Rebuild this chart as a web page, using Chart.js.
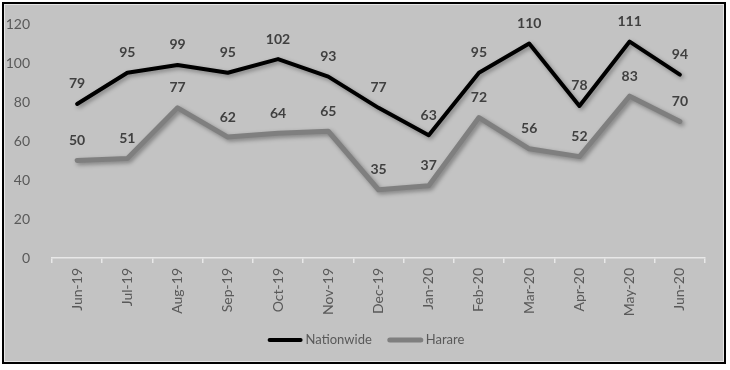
<!DOCTYPE html>
<html>
<head>
<meta charset="utf-8">
<script src="https://cdn.jsdelivr.net/npm/chart.js@4"></script>
<style>
  html, body { margin: 0; padding: 0; background: #ffffff; }
  #wrap { position: relative; width: 730px; height: 370px; }
  #frame { position: absolute; left: 2px; top: 2px; width: 720px; height: 358px;
           background: #c3c3c3; border: 2px solid #000; box-shadow: inset 0 0 0 1px #e6e6e6; }
  #tick { position: absolute; left: 731px; top: 343px; width: 2px; height: 27px; background: #000; }
  canvas { position: absolute; left: 0; top: 0; }
</style>
</head>
<body>
<div id="wrap">
  <div id="frame"></div>
  <div id="tick"></div>
  <canvas id="c" width="730" height="370"></canvas>
</div>
<script>
const categories = ['Jun-19','Jul-19','Aug-19','Sep-19','Oct-19','Nov-19','Dec-19','Jan-20','Feb-20','Mar-20','Apr-20','May-20','Jun-20'];
const nationwide = [79, 95, 99, 95, 102, 93, 77, 63, 95, 110, 78, 111, 94];
const harare = [50, 51, 77, 62, 64, 65, 35, 37, 72, 56, 52, 83, 70];
const yTicks = [0, 20, 40, 60, 80, 100, 120];

const FONT = 'Lato, "Open Sans", sans-serif';

const shadowPlugin = {
  id: 'shadow',
  beforeDatasetDraw(chart) {
    const ctx = chart.ctx;
    ctx.save();
    ctx.shadowColor = 'rgba(0,0,0,0.35)';
    ctx.shadowBlur = 4;
    ctx.shadowOffsetX = 2;
    ctx.shadowOffsetY = 2;
  },
  afterDatasetDraw(chart) {
    chart.ctx.restore();
  }
};

const labelPlugin = {
  id: 'valueLabels',
  afterDatasetsDraw(chart) {
    const ctx = chart.ctx;
    ctx.save();
    ctx.font = 'bold 14px ' + FONT;
    ctx.fillStyle = '#404040';
    ctx.textAlign = 'center';
    ctx.textBaseline = 'middle';
    chart.data.datasets.forEach((ds, i) => {
      const meta = chart.getDatasetMeta(i);
      meta.data.forEach((pt, j) => {
        ctx.fillText(String(ds.data[j]), pt.x, pt.y - 20);
      });
    });
    ctx.restore();
  }
};

const legendPlugin = {
  id: 'customLegend',
  afterDraw(chart) {
    const ctx = chart.ctx;
    ctx.save();
    ctx.font = '13px ' + FONT;
    ctx.textBaseline = 'middle';
    ctx.textAlign = 'left';
    const y = 340;
    const items = chart.data.datasets.map(ds => ({ label: ds.label, color: ds.borderColor, w: ds.borderWidth }));
    const lineW = 35, gap = 3, itemGap = 16;
    let total = 0;
    items.forEach((it, i) => { total += lineW + gap + ctx.measureText(it.label).width + (i < items.length - 1 ? itemGap : 0); });
    let x = 366 - total / 2;
    items.forEach(it => {
      ctx.strokeStyle = it.color;
      ctx.lineWidth = it.w;
      ctx.lineCap = 'round';
      ctx.beginPath();
      ctx.moveTo(x + 2, y);
      ctx.lineTo(x + lineW - 2, y);
      ctx.stroke();
      x += lineW + gap;
      ctx.fillStyle = '#595959';
      ctx.fillText(it.label, x, y);
      x += ctx.measureText(it.label).width + itemGap;
    });
    ctx.restore();
  }
};

new Chart(document.getElementById('c'), {
  type: 'line',
  data: {
    labels: categories,
    datasets: [
      { label: 'Nationwide', data: nationwide, borderColor: '#000000', borderWidth: 4,
        pointRadius: 0, tension: 0, borderJoinStyle: 'round', borderCapStyle: 'round' },
      { label: 'Harare', data: harare, borderColor: '#7f7f7f', borderWidth: 5,
        pointRadius: 0, tension: 0, borderJoinStyle: 'round', borderCapStyle: 'round' }
    ]
  },
  options: {
    responsive: false,
    animation: false,
    layout: { padding: { top: 24, right: 25, left: 0, bottom: 0 } },
    plugins: { legend: { display: false }, tooltip: { enabled: false } },
    scales: {
      x: {
        offset: true,
        grid: { offset: true, drawOnChartArea: false, drawTicks: true, tickLength: 5, color: '#e8e8e8', lineWidth: 1.5 },
        border: { display: true, color: '#e8e8e8', width: 1.5 },
        ticks: { color: '#595959', font: { family: FONT, size: 14 }, minRotation: 90, maxRotation: 90, padding: 5, autoSkip: false },
        afterFit(scale) { scale.height = 112; }
      },
      y: {
        min: 0, max: 120,
        afterBuildTicks(scale) { scale.ticks = yTicks.map(v => ({ value: v })); },
        grid: { display: false },
        border: { display: false },
        ticks: { color: '#595959', font: { family: FONT, size: 14 }, padding: 14 },
        afterFit(scale) { scale.width = 52; }
      }
    }
  },
  plugins: [shadowPlugin, labelPlugin, legendPlugin]
});
</script>
</body>
</html>
